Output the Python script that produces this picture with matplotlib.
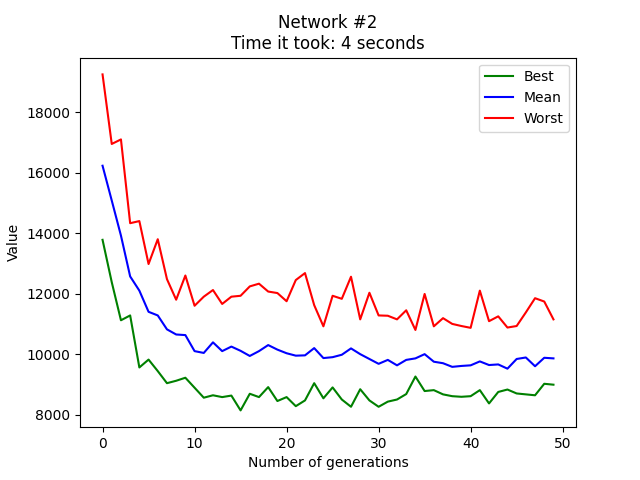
import matplotlib
matplotlib.use("Agg")
import matplotlib.pyplot as plt

generations = list(range(50))

best = [13780, 12380, 11120, 11280, 9560, 9820, 9440, 9040, 9120, 9220,
        8890, 8560, 8640, 8580, 8630, 8140, 8690, 8580, 8910, 8450,
        8580, 8280, 8470, 9040, 8540, 8900, 8500, 8260, 8840, 8470,
        8260, 8430, 8500, 8680, 9260, 8780, 8810, 8670, 8610, 8590,
        8610, 8810, 8370, 8750, 8830, 8700, 8670, 8640, 9020, 8990]

mean = [16230, 15080, 13920, 12570, 12100, 11400, 11280, 10820, 10650, 10630,
        10100, 10040, 10390, 10100, 10250, 10110, 9940, 10100, 10300, 10150,
        10030, 9950, 9960, 10200, 9870, 9900, 9980, 10190, 10000, 9840,
        9680, 9810, 9630, 9810, 9860, 10000, 9750, 9700, 9580, 9610,
        9630, 9760, 9640, 9660, 9520, 9840, 9890, 9600, 9880, 9860]

worst = [19250, 16950, 17100, 14330, 14400, 12980, 13800, 12480, 11800, 12600,
         11600, 11900, 12120, 11660, 11900, 11930, 12240, 12330, 12070, 12020,
         11750, 12450, 12680, 11620, 10920, 11930, 11830, 12560, 11150, 12030,
         11280, 11270, 11150, 11450, 10800, 11990, 10920, 11190, 11000, 10930,
         10870, 12100, 11090, 11250, 10880, 10930, 11380, 11850, 11740, 11150]

network_id = 2
seconds = 4

fig = plt.figure(figsize=(6.4, 4.8), dpi=100)

plt.plot(generations, best, color="green", label="Best")
plt.plot(generations, mean, color="blue", label="Mean")
plt.plot(generations, worst, color="red", label="Worst")

plt.title(f"Network #{network_id}\nTime it took: {seconds} seconds")
plt.xlabel("Number of generations")
plt.ylabel("Value")
plt.legend()

plt.savefig("out.png")
